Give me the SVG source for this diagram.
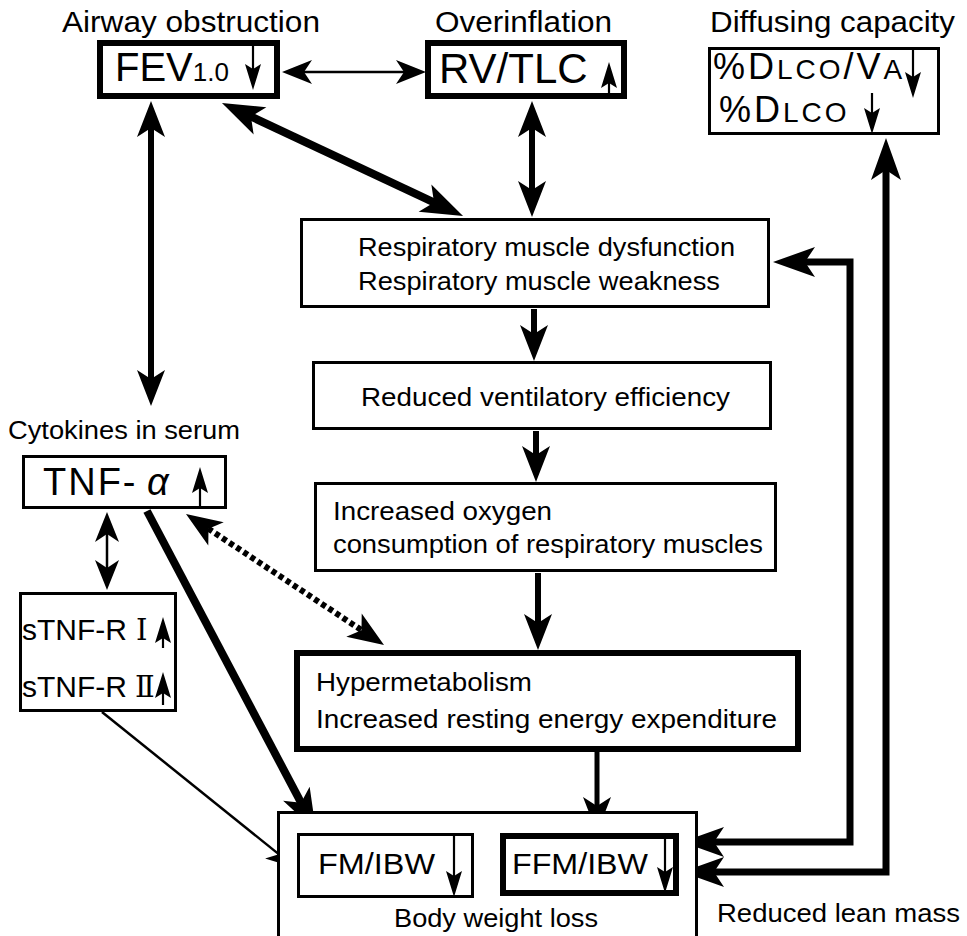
<svg xmlns="http://www.w3.org/2000/svg" width="967" height="936" viewBox="0 0 967 936">
<style>
text{font-family:"Liberation Sans",Arial,Helvetica,sans-serif;fill:#000}
.box{fill:#fff;stroke:#000;stroke-width:3}
.tbox{fill:#fff;stroke:#000;stroke-width:6}
.lbl{font-size:29px}
.mid{font-size:26px}
.c{fill:none;stroke:#000;stroke-linecap:butt;stroke-linejoin:miter}
.thin{stroke-width:2.5}
.med{stroke-width:6}
.thk{stroke-width:8}
.tiny{fill:none;stroke:#000;stroke-width:2.2}
.dot{stroke-width:6;stroke-dasharray:5 3.5}
.rn{font-family:"DejaVu Serif","Liberation Serif","Noto Sans CJK JP",serif;font-size:29px}
</style>
<defs>
<marker id="as" markerUnits="userSpaceOnUse" markerWidth="30" markerHeight="24" refX="15" refY="12" orient="auto-start-reverse" overflow="visible"><path d="M0,0 L30,12 L0,24 L8,12 Z"/></marker>
<marker id="am" markerUnits="userSpaceOnUse" markerWidth="36" markerHeight="28" refX="18" refY="14" orient="auto-start-reverse" overflow="visible"><path d="M0,0 L36,14 L0,28 L9,14 Z"/></marker>
<marker id="al" markerUnits="userSpaceOnUse" markerWidth="42" markerHeight="30" refX="21" refY="15" orient="auto-start-reverse" overflow="visible"><path d="M0,0 L42,15 L0,30 L10,15 Z"/></marker>
<marker id="at" markerUnits="userSpaceOnUse" markerWidth="26" markerHeight="16" refX="12" refY="8" orient="auto" overflow="visible"><path d="M0,0 L26,8 L0,16 L5,8 Z"/></marker>
</defs>
<rect width="967" height="936" fill="#fff"/>

<g id="connectors">
<path class="c thin" d="M297,72 H411" marker-start="url(#as)" marker-end="url(#as)"/>
<path class="c med" d="M151,119 V388" marker-start="url(#am)" marker-end="url(#am)"/>
<path class="c thk" d="M241,111.9 L444,207.1" marker-start="url(#al)" marker-end="url(#al)"/>
<path class="c med" d="M532,119 V199" marker-start="url(#am)" marker-end="url(#am)"/>
<path class="c med" d="M534,309 V343" marker-end="url(#am)"/>
<path class="c med" d="M536,431 V464" marker-end="url(#am)"/>
<path class="c med" d="M538,573 V632" marker-end="url(#am)"/>
<path class="c" style="stroke-width:5" d="M597,752 V815" marker-end="url(#am)"/>
<path class="c thin" d="M107,527 V575" marker-start="url(#as)" marker-end="url(#as)"/>
<path class="c thk" d="M147,511 L306.2,812.4" marker-end="url(#al)"/>
<path class="c thin" d="M102,712 L284.3,858.6" marker-end="url(#as)"/>
<path class="c dot" d="M201,523.9 L369,635.1" marker-start="url(#am)" marker-end="url(#am)"/>
<path class="c" style="stroke-width:7" d="M794,262 H850 V842 H703" marker-start="url(#al)" marker-end="url(#al)"/>
<path class="c" style="stroke-width:7" d="M886,159 V872 H703" marker-start="url(#al)" marker-end="url(#al)"/>
</g>

<g id="airway">
<text class="lbl" x="62" y="32" textLength="258" lengthAdjust="spacingAndGlyphs">Airway obstruction</text>
<rect class="tbox" x="100" y="43" width="177" height="53"/>
<text x="115" y="81" font-size="40">FEV<tspan font-size="26">1.0</tspan></text>
<path class="tiny" d="M253,46 V76" marker-end="url(#at)"/>
</g>

<g id="overinflation">
<text class="lbl" x="435" y="32" textLength="177" lengthAdjust="spacingAndGlyphs">Overinflation</text>
<rect class="tbox" x="428" y="43" width="196" height="53"/>
<text x="439" y="83" font-size="42">RV/TLC</text>
<path class="tiny" d="M609,94 V76" marker-end="url(#at)"/>
</g>

<g id="diffusing">
<text class="lbl" x="710" y="32" textLength="245" lengthAdjust="spacingAndGlyphs">Diffusing capacity</text>
<rect class="box" x="709.5" y="48.5" width="229" height="85"/>
<text x="713" y="79" font-size="36" letter-spacing="3">%D<tspan font-size="28">LCO</tspan>/V<tspan font-size="28">A</tspan></text>
<text x="719" y="122" font-size="36" letter-spacing="3">%D<tspan font-size="28">LCO</tspan></text>
<path class="tiny" d="M913,50 V84" marker-end="url(#at)"/>
<path class="tiny" d="M872,93 V120" marker-end="url(#at)"/>
</g>

<g id="resp-muscle">
<rect class="box" x="301.5" y="219.5" width="467" height="87"/>
<text class="mid" x="358" y="256" textLength="377" lengthAdjust="spacingAndGlyphs">Respiratory muscle dysfunction</text>
<text class="mid" x="358" y="290" textLength="362" lengthAdjust="spacingAndGlyphs">Respiratory muscle weakness</text>
</g>

<g id="ventilatory">
<rect class="box" x="313.5" y="362.5" width="457" height="66"/>
<text class="mid" x="361" y="406" textLength="369" lengthAdjust="spacingAndGlyphs">Reduced ventilatory efficiency</text>
</g>

<g id="oxygen">
<rect class="box" x="315.5" y="483.5" width="460" height="87"/>
<text class="mid" x="333" y="520" textLength="219" lengthAdjust="spacingAndGlyphs">Increased oxygen</text>
<text class="mid" x="333" y="553" textLength="430" lengthAdjust="spacingAndGlyphs">consumption of respiratory muscles</text>
</g>

<g id="hypermetabolism">
<rect class="tbox" x="297" y="653" width="501" height="96"/>
<text class="mid" x="316" y="691" textLength="216" lengthAdjust="spacingAndGlyphs">Hypermetabolism</text>
<text class="mid" x="316" y="728" textLength="461" lengthAdjust="spacingAndGlyphs">Increased resting energy expenditure</text>
</g>

<g id="tnf">
<text x="8" y="439" font-size="26" textLength="232" lengthAdjust="spacingAndGlyphs">Cytokines in serum</text>
<rect class="box" x="23.5" y="456.5" width="202" height="51"/>
<text x="43" y="495" font-size="38" letter-spacing="2">TNF-<tspan x="147" font-style="italic" letter-spacing="0">α</tspan></text>
<path class="tiny" d="M200,507 V481" marker-end="url(#at)"/>
</g>

<g id="stnf">
<rect class="box" x="20.5" y="593.5" width="155" height="117"/>
<text x="22" y="640" font-size="30">sTNF-R <tspan class="rn" x="136">Ⅰ</tspan></text>
<text x="22" y="697" font-size="30">sTNF-R <tspan class="rn" x="135">Ⅱ</tspan></text>
<path class="tiny" d="M163,648 V631" marker-end="url(#at)"/>
<path class="tiny" d="M163,705 V686" marker-end="url(#at)"/>
</g>

<g id="body-weight">
<rect class="box" x="278.5" y="812.5" width="418" height="140"/>
<text x="394" y="927" font-size="26" textLength="204" lengthAdjust="spacingAndGlyphs">Body weight loss</text>
</g>

<g id="fm">
<rect class="box" x="298.5" y="834.5" width="174" height="62"/>
<text x="318" y="874" font-size="30" textLength="117" lengthAdjust="spacingAndGlyphs">FM/IBW</text>
<path class="tiny" d="M454,836 V883" marker-end="url(#at)"/>
</g>

<g id="ffm">
<rect class="tbox" x="503" y="836" width="173" height="57"/>
<text x="512" y="874" font-size="30" textLength="136" lengthAdjust="spacingAndGlyphs">FFM/IBW</text>
<path class="tiny" d="M665,839 V879" marker-end="url(#at)"/>
</g>

<g id="lean-mass">
<text x="717" y="922" font-size="26" textLength="243" lengthAdjust="spacingAndGlyphs">Reduced lean mass</text>
</g>
</svg>
